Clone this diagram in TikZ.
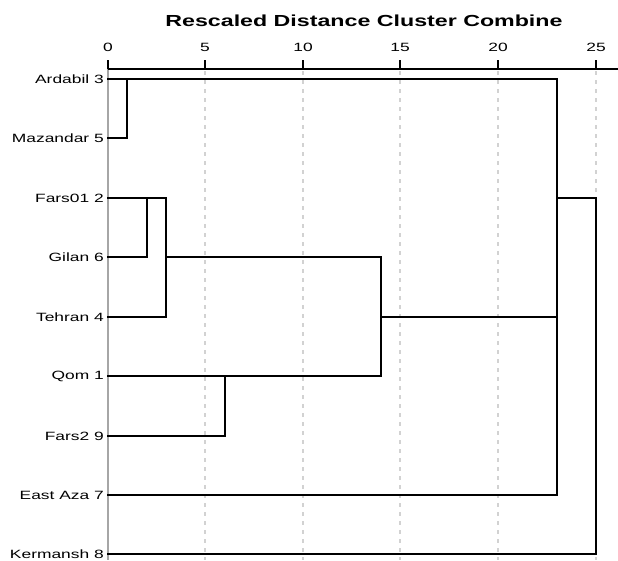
\documentclass[tikz,border=0pt]{standalone}
\usepackage{fontspec}
\newfontfamily\wsans[FakeStretch=1.45]{Liberation Sans}
\tikzset{
  leaf/.style={anchor=east, inner sep=0pt, font=\wsans\fontsize{12}{12}\selectfont},
  ticklab/.style={anchor=center, inner sep=0pt, font=\wsans\fontsize{12}{12}\selectfont},
  dend/.style={draw=black, line width=2pt, line cap=rect},
  grid line/.style={draw=gray!35, line width=1.2pt, dash pattern=on 4pt off 5pt},
  axisline/.style={draw=black, line width=1.2pt},
  tickmark/.style={draw=black, line width=2pt},
  baseline/.style={draw=gray!70, line width=2pt}
}
\begin{document}
\begin{tikzpicture}[x=1pt,y=-1pt]
\useasboundingbox (0,0) rectangle (618,560);
% title
\node[inner sep=0pt, font=\wsans\bfseries\fontsize{16}{16}\selectfont] (title) at (364,21) {Rescaled Distance Cluster Combine};
% grid lines
\foreach \u/\x in {5/205,10/303,15/400,20/498,25/596}{
  \draw[grid line] (\x,71) -- (\x,560);
}
% baseline at 0
\draw[baseline] (108,69) -- (108,560);
% axis
\draw[axisline] (108,69) -- (618,69);
\foreach \u/\x in {0/108,5/205,10/303,15/400,20/498,25/596}{
  \draw[tickmark] (\x,60) -- (\x,69);
  \node[ticklab] (t\u) at (\x,47) {\u};
}
% leaves
\foreach \i/\y/\lab in {1/79/Ardabil 3,2/138/Mazandar 5,3/198/Fars01 2,4/257/Gilan 6,5/317/Tehran 4,6/376/Qom 1,7/436/Fars2 9,8/495/East Aza 7,9/554/Kermansh 8}{
  \coordinate (l\i) at (108,\y);
  \node[leaf] (n\i) at (104,\y) {\lab};
}
% merge points
\coordinate (a1) at (127,79);   \coordinate (a2) at (127,138);
\coordinate (b3) at (147,198);  \coordinate (b4) at (147,257);
\coordinate (c3) at (166,198);  \coordinate (c4) at (166,257); \coordinate (c5) at (166,317);
\coordinate (d6) at (225,376);  \coordinate (d7) at (225,436);
\coordinate (e4) at (381,257);  \coordinate (e5) at (381,317); \coordinate (e6) at (381,376);
\coordinate (f1) at (557,79);   \coordinate (f3) at (557,198); \coordinate (f5) at (557,317); \coordinate (f8) at (557,495);
\coordinate (g3) at (596,198);  \coordinate (g9) at (596,554);
% dendrogram
\draw[dend] (l2) -- (a2) -- (a1);
\draw[dend] (l1) -- (f1);
\draw[dend] (l4) -- (b4) -- (b3);
\draw[dend] (l3) -- (c3) -- (c5);
\draw[dend] (l5) -- (c5);
\draw[dend] (c4) -- (e4) -- (e6);
\draw[dend] (l7) -- (d7) -- (d6);
\draw[dend] (l6) -- (e6);
\draw[dend] (e5) -- (f5);
\draw[dend] (f1) -- (f8);
\draw[dend] (l8) -- (f8);
\draw[dend] (f3) -- (g3) -- (g9);
\draw[dend] (l9) -- (g9);
\end{tikzpicture}
\end{document}
